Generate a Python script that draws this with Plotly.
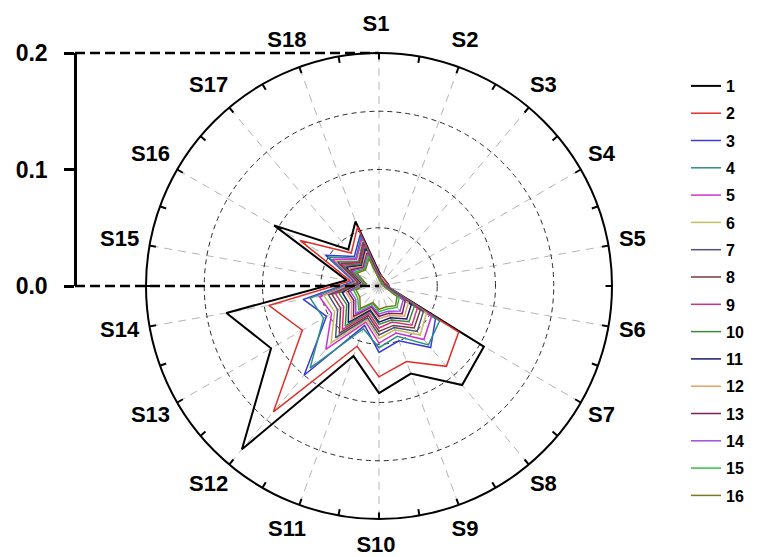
import plotly.graph_objects as go

# Categories around the dial (clockwise from the top)
categories = ["S1", "S2", "S3", "S4", "S5", "S6", "S7", "S8", "S9",
              "S10", "S11", "S12", "S13", "S14", "S15", "S16", "S17", "S18"]

# Series values, one list per sample, ordered S1..S18
s1 = [0.012, 0.008, 0.007, 0.007, 0.008, 0.009, 0.104, 0.111, 0.080, 0.092, 0.064, 0.183, 0.107, 0.133, 0.028, 0.104, 0.041, 0.059]
s2 = [0.011, 0.008, 0.007, 0.007, 0.008, 0.009, 0.079, 0.090, 0.069, 0.078, 0.055, 0.141, 0.076, 0.096, 0.025, 0.078, 0.037, 0.054]
s3 = [0.010, 0.007, 0.006, 0.006, 0.007, 0.009, 0.056, 0.069, 0.050, 0.057, 0.036, 0.100, 0.052, 0.066, 0.022, 0.053, 0.033, 0.047]
s4 = [0.010, 0.007, 0.006, 0.006, 0.007, 0.009, 0.060, 0.066, 0.046, 0.053, 0.039, 0.092, 0.055, 0.060, 0.021, 0.050, 0.031, 0.045]
s5 = [0.010, 0.007, 0.006, 0.006, 0.007, 0.008, 0.052, 0.060, 0.043, 0.049, 0.033, 0.071, 0.047, 0.052, 0.020, 0.046, 0.030, 0.043]
s6 = [0.009, 0.007, 0.006, 0.006, 0.006, 0.008, 0.047, 0.055, 0.040, 0.045, 0.031, 0.064, 0.044, 0.048, 0.019, 0.043, 0.028, 0.041]
s7 = [0.009, 0.006, 0.005, 0.005, 0.006, 0.008, 0.044, 0.051, 0.038, 0.042, 0.029, 0.058, 0.041, 0.044, 0.018, 0.041, 0.027, 0.040]
s8 = [0.009, 0.006, 0.005, 0.005, 0.006, 0.008, 0.041, 0.047, 0.036, 0.039, 0.027, 0.053, 0.038, 0.041, 0.018, 0.038, 0.026, 0.038]
s9 = [0.008, 0.006, 0.005, 0.005, 0.006, 0.007, 0.038, 0.044, 0.033, 0.036, 0.025, 0.049, 0.035, 0.038, 0.017, 0.036, 0.025, 0.037]
s10 = [0.008, 0.006, 0.005, 0.005, 0.005, 0.007, 0.035, 0.040, 0.031, 0.033, 0.023, 0.045, 0.032, 0.035, 0.016, 0.034, 0.024, 0.035]
s11 = [0.008, 0.005, 0.005, 0.004, 0.005, 0.007, 0.032, 0.037, 0.029, 0.031, 0.022, 0.041, 0.030, 0.032, 0.015, 0.032, 0.023, 0.034]
s12 = [0.007, 0.005, 0.004, 0.004, 0.005, 0.006, 0.029, 0.034, 0.027, 0.028, 0.020, 0.037, 0.027, 0.029, 0.014, 0.030, 0.022, 0.032]
s13 = [0.007, 0.005, 0.004, 0.004, 0.005, 0.006, 0.026, 0.031, 0.025, 0.026, 0.019, 0.034, 0.025, 0.027, 0.013, 0.028, 0.021, 0.030]
s14 = [0.007, 0.005, 0.004, 0.004, 0.004, 0.006, 0.024, 0.028, 0.023, 0.024, 0.018, 0.031, 0.023, 0.025, 0.013, 0.026, 0.020, 0.029]
s15 = [0.006, 0.004, 0.004, 0.003, 0.004, 0.005, 0.020, 0.024, 0.021, 0.022, 0.016, 0.027, 0.021, 0.022, 0.012, 0.024, 0.019, 0.027]
s16 = [0.006, 0.004, 0.003, 0.003, 0.004, 0.005, 0.018, 0.022, 0.019, 0.020, 0.015, 0.025, 0.019, 0.020, 0.011, 0.022, 0.018, 0.025]

series = [s1, s2, s3, s4, s5, s6, s7, s8, s9, s10, s11, s12, s13, s14, s15, s16]
names = [str(i) for i in range(1, 17)]
colors = ["#000000", "#e0302a", "#3a3ad8", "#2a8f80", "#d030d0", "#c4bc60",
          "#50507a", "#7a3a3a", "#d03080", "#3a8a3a", "#1a1a70", "#e8a060",
          "#7a2060", "#9a50e0", "#30c040", "#7a7a20"]

radial_ticks = [0.0, 0.1, 0.2]
radial_ticktext = ["0.0", "0.1", "0.2"]
rmax = 0.2

W, H = 776, 557
cx, cy, R = 379, 286, 233          # dial centre and radius in pixels
lcx, RL = 376, 263                  # ring on which category names sit
axis_x = 75                         # left radial scale position

FONT = "Arial, Liberation Sans, sans-serif"

fig = go.Figure()

for vals, name, col in zip(series, names, colors):
    fig.add_trace(go.Scatterpolar(
        r=vals + vals[:1],
        theta=categories + categories[:1],
        mode="lines",
        name=name,
        legendgroup=name,
        line=dict(color=col, width=2 if name == "1" else 1.5),
        subplot="polar",
    ))

# category names on a slightly larger, invisible ring
fig.add_trace(go.Scatterpolar(
    r=[0.99] * len(categories), theta=categories,
    mode="text", text=categories, textposition="middle center",
    textfont=dict(family=FONT, size=22, weight="bold", color="black"),
    cliponaxis=False, showlegend=False, hoverinfo="skip",
    subplot="polar3",
))

# overlay dial carrying the 10-degree tick marks
fig.add_trace(go.Scatterpolar(r=[], theta=[], subplot="polar2",
                              showlegend=False, hoverinfo="skip"))
# carrier for the left-hand radial scale
fig.add_trace(go.Scatter(x=[], y=[], xaxis="x", yaxis="y",
                         showlegend=False, hoverinfo="skip"))

dom_x = [(cx - R) / W, (cx + R) / W]
dom_y = [1 - (cy + R) / H, 1 - (cy - R) / H]
lab_x = [(lcx - RL) / W, (lcx + RL) / W]
lab_y = [1 - (cy + RL) / H, 1 - (cy - RL) / H]
scale_dom = [1 - cy / H, 1 - (cy - R) / H]

fig.update_layout(
    width=W, height=H,
    margin=dict(l=0, r=0, t=0, b=0, autoexpand=False),
    paper_bgcolor="white",
    plot_bgcolor="rgba(0,0,0,0)",
    font=dict(family=FONT, color="black"),
    polar=dict(
        domain=dict(x=dom_x, y=dom_y),
        bgcolor="rgba(0,0,0,0)",
        radialaxis=dict(
            range=[0, rmax], tickvals=[0.05, 0.1, 0.15],
            showticklabels=False, ticks="", showline=False,
            gridcolor="#2a2a2a", gridwidth=1.3, griddash="5px,4px",
        ),
        angularaxis=dict(
            rotation=90, direction="clockwise",
            showline=True, linecolor="black", linewidth=2,
            gridcolor="#b5b5b5", gridwidth=1.3, griddash="8px,6px",
            ticks="", showticklabels=False,
        ),
    ),
    polar2=dict(
        domain=dict(x=dom_x, y=dom_y),
        bgcolor="rgba(0,0,0,0)",
        radialaxis=dict(visible=False, range=[0, rmax]),
        angularaxis=dict(
            type="linear", thetaunit="degrees",
            rotation=90, direction="clockwise",
            tickvals=list(range(0, 360, 10)),
            ticks="inside", ticklen=6, tickwidth=1.5, tickcolor="black",
            showticklabels=False, showgrid=False, showline=False,
        ),
    ),
    polar3=dict(
        domain=dict(x=lab_x, y=lab_y),
        bgcolor="rgba(0,0,0,0)",
        radialaxis=dict(visible=False, range=[0, 1]),
        angularaxis=dict(visible=False, rotation=90, direction="clockwise",
                         categoryorder="array", categoryarray=categories),
    ),
    xaxis=dict(visible=False, domain=[axis_x / W, cx / W], range=[0, 1],
               anchor="y"),
    yaxis=dict(
        domain=scale_dom, range=[0, rmax],
        anchor="free", position=axis_x / W,
        tickvals=radial_ticks, ticktext=radial_ticktext,
        showline=True, linecolor="black", linewidth=2.5,
        ticks="outside", ticklen=10, tickwidth=2.5, tickcolor="black",
        ticklabelstandoff=12,
        showgrid=False, zeroline=False,
        tickfont=dict(family=FONT, size=23, weight="bold", color="black"),
    ),
    legend=dict(
        x=686 / W, y=1 - 69 / H, xanchor="left", yanchor="top",
        font=dict(family=FONT, size=16, weight="bold", color="black"),
        tracegroupgap=3.5, bgcolor="rgba(0,0,0,0)",
        itemwidth=30,
    ),
    showlegend=True,
)

# dashed guide lines from the radial scale to the dial, placed on the
# scale's own value-to-paper mapping so they are not clipped at its ends
def scale_to_paper(v):
    return scale_dom[0] + (v / rmax) * (scale_dom[1] - scale_dom[0])

for yv in (rmax, 0.0):
    yp = scale_to_paper(yv)
    fig.add_shape(type="line", xref="paper", yref="paper",
                  x0=axis_x / W, x1=cx / W, y0=yp, y1=yp,
                  line=dict(color="black", width=2.5, dash="10px,5px"),
                  layer="above")

fig.write_html("out.html")
